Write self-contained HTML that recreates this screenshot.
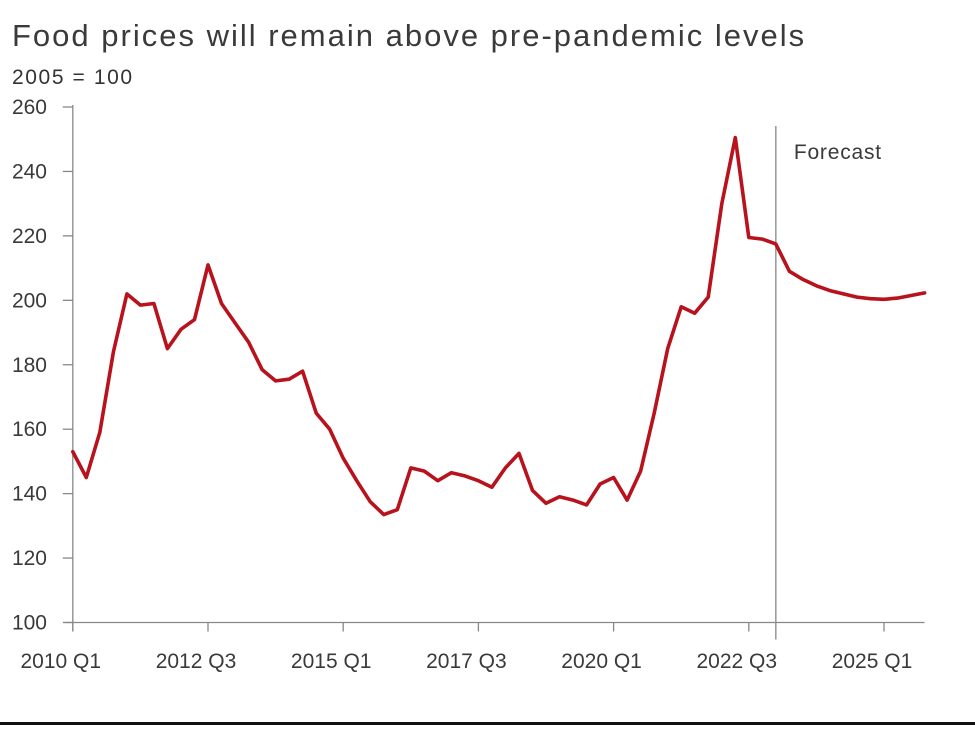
<!DOCTYPE html>
<html><head><meta charset="utf-8"><style>
html,body{margin:0;padding:0;background:#fff;}
body{width:975px;height:725px;overflow:hidden;font-family:"Liberation Sans",sans-serif;}
svg text{font-family:"Liberation Sans",sans-serif;fill:#3a3a3a;}
</style></head><body>
<svg width="975" height="725" viewBox="0 0 975 725" xmlns="http://www.w3.org/2000/svg">
<rect x="0" y="0" width="975" height="725" fill="#fff"/>
<rect x="0" y="722" width="975" height="3" fill="#111"/>
<text x="12" y="46" font-size="31" letter-spacing="2" style="fill:#3a3a3a">Food prices will remain above pre-pandemic levels</text>
<text x="12" y="84" font-size="21" letter-spacing="1.6" style="fill:#333">2005 = 100</text>
<g id="axes"></g>
<g id="marks"></g>
</svg>
<script>
const categoriesStart = 2010; // 2010 Q1, quarterly
const values = [153,145,159,184,202,198.5,199,185,191,194,211,199,193,187,178.5,175,175.5,178,165,160,151,144,137.5,133.5,135,148,147,144,146.5,145.5,144,142,148,152.5,141,137,139,138,136.5,143,145,138,147,165,185,198,196,201,230,250.5,219.5,219,217.5,209,206.5,204.5,203,202,201,200.5,200.3,200.7,201.5,202.3];
const yTicks = [100,120,140,160,180,200,220,240,260];
const xTickIdx = [0,10,20,30,40,50,60];
const xTickLabels = ["2010 Q1","2012 Q3","2015 Q1","2017 Q3","2020 Q1","2022 Q3","2025 Q1"];
const forecastIdx = 52;
const forecastLabel = "Forecast";

const NS="http://www.w3.org/2000/svg";
const X0=72.8, STEP=13.52, Y0=622.5, YMIN=100, YMAX=260, YTOP=107;
const x=i=>X0+i*STEP;
const y=v=>Y0-(v-YMIN)/(YMAX-YMIN)*(Y0-YTOP);
function mk(tag,attrs,parent){const e=document.createElementNS(NS,tag);for(const k in attrs)e.setAttribute(k,attrs[k]);parent.appendChild(e);return e;}
const axes=document.getElementById('axes'), marks=document.getElementById('marks');
const xEnd=x(values.length-1);

const ya=mk('line',{x1:X0,y1:YTOP-2,x2:X0,y2:Y0+9,stroke:'#888','stroke-width':1.3},axes);


const xa=mk('line',{x1:X0-8,y1:Y0,x2:xEnd,y2:Y0,stroke:'#888','stroke-width':1.3},axes);



yTicks.forEach(t=>{
  const tk=mk('line',{x1:X0-10,y1:y(t),x2:X0,y2:y(t),stroke:'#888','stroke-width':1.3},axes);
  
  
  const tx=mk('text',{x:47,y:y(t)+7,'text-anchor':'end','font-size':21},axes);
  tx.textContent=t;
  
  
});
xTickIdx.forEach((i,k)=>{
  const tk=mk('line',{x1:x(i),y1:Y0,x2:x(i),y2:Y0+9,stroke:'#888','stroke-width':1.3},axes);
  
  
  const tx=mk('text',{x:x(i)-12,y:668,'text-anchor':'middle','font-size':21},axes);
  tx.textContent=xTickLabels[k];
  
  
});
const fl=mk('line',{x1:x(forecastIdx),y1:126,x2:x(forecastIdx),y2:Y0+17,stroke:'#888','stroke-width':1.3},axes);


const ft=mk('text',{x:x(forecastIdx)+18,y:159,'font-size':21,'letter-spacing':0.8},axes);
ft.textContent=forecastLabel;



const pts=values.map((v,i)=>x(i).toFixed(1)+','+y(v).toFixed(1)).join(' ');
const pl=mk('polyline',{points:pts,fill:'none',stroke:'#b8121d','stroke-width':3.6,'stroke-linejoin':'round','stroke-linecap':'round'},marks);


</script>
</body></html>
